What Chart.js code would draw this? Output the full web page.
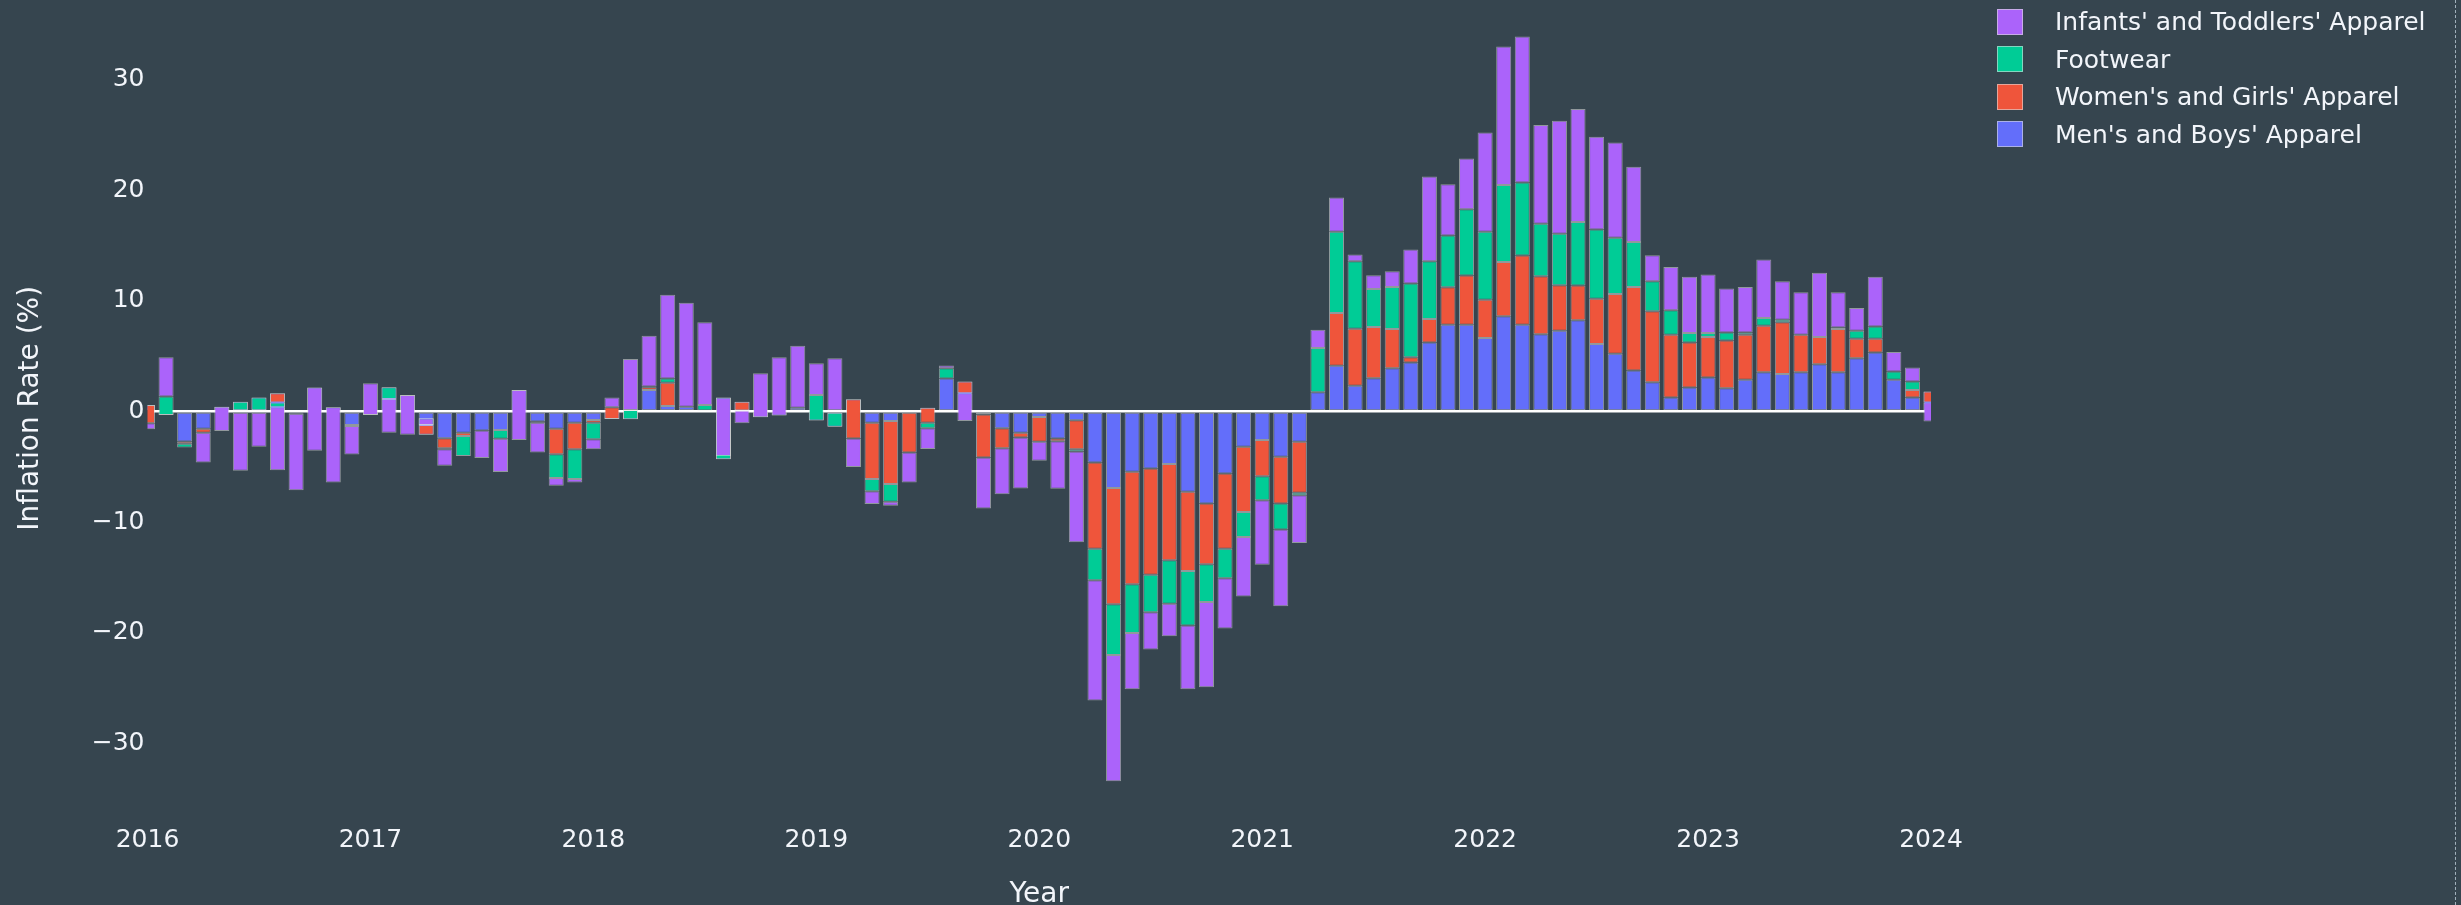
<!DOCTYPE html>
<html>
<head>
<meta charset="utf-8">
<script src="https://cdn.jsdelivr.net/npm/chart.js@4.4.1/dist/chart.umd.min.js"></script>
<style>
    html, body { margin: 0; padding: 0; background: #36454f; }
    #wrap { position: relative; width: 2461px; height: 905px; }
    #legend { position: absolute; left: 1997px; top: 3px; font-family: 'DejaVu Sans'; font-size: 25px; color: #f2f5fa; }
    .item { display: flex; align-items: center; height: 37.5px; white-space: nowrap; }
    .box { width: 26px; height: 26px; box-sizing: border-box; border: 1px solid rgba(220,220,220,0.6); margin-right: 32px; }
    #edge { position: absolute; left: 2455px; top: 0; height: 905px; border-left: 1px dashed rgba(190,205,215,0.8); }
</style>
</head>
<body>
<div id="wrap">
    <canvas id="myChart" width="2461" height="905"></canvas>
    <div id="legend"></div>
    <div id="edge"></div>
</div>
<script>
// Year tick labels, months are built from them (Jan 2016 .. Jan 2024)
const years = ['2016', '2017', '2018', '2019', '2020', '2021', '2022', '2023', '2024'];
const months = [];
years.forEach((y, i) => {
    const last = i === years.length - 1 ? 1 : 12;
    for (let m = 1; m <= last; m++) months.push(y + '-' + String(m).padStart(2, '0'));
});

// Monthly inflation rate (%) per category
const mensBoys = [
    0.6, -0.3, -2.7, -1.55, 0.45, 0.9, 1.27, 1.66, -0.2, 2.17, 0.4, -1.2,
    -0.3, 2.2, 1.5, -2.1, -2.4, -1.9, -1.7, -1.66, 1.96, -0.9, -1.55, -1.0,
    -0.75, -0.66, -0.7, 1.96, 0.5, 0.45, 0.1, -4.3, 0.9, -0.5, -0.36, 0.35,
    -0.8, -1.36, 1.12, -1.0, -0.85, -0.1, 0.36, 3.0, 2.72, -0.25, -1.5, -1.9,
    -0.48, -2.42, -0.78, -4.6, -6.9, -5.44, -5.14, -4.74, -7.25, -8.3, -5.6, -3.17,
    -2.57, -4.08, -2.72, 1.75, 4.14, 2.33, 3.02, 3.93, 4.44, 6.25, 7.85, 7.85,
    6.65, 8.61, 7.85, 7.0, 7.31, 8.25, 6.1, 5.23, 3.72, 2.66, 1.27, 2.18,
    3.08, 2.11, 2.87, 3.56, 3.41, 3.56, 4.29, 3.56, 4.83, 5.35, 2.87, 1.27,
    1.81
];
const womensGirls = [
    -1.65, 0, -0.2, -0.35, 0, 0, 0, -0.84, 0, 0, 0, -0.1,
    0, 0, 0, 0.9, -0.9, -0.3, 0, 0, 0, -0.1, -2.3, -2.4,
    -0.25, 1.06, 0, 0.25, 2.1, 0, 0, 0, -0.8, 0, 0, 0,
    0, 0, -3.54, -5.1, -5.7, -3.6, -1.36, 0, -1.06, -3.9, -1.82, -0.45,
    -2.25, -0.25, -2.62, -7.8, -10.5, -10.16, -9.6, -8.7, -7.15, -5.5, -6.8, -5.9,
    -3.26, -4.22, -4.62, 0, 4.77, 5.16, 4.62, 3.53, 0.48, 2.12, 3.39, 4.45,
    3.47, 4.92, 6.25, 5.24, 4.11, 3.14, 4.11, 5.4, 7.55, 6.4, 5.68, 4.07,
    3.66, 4.32, 4.08, 4.2, 4.66, 3.39, 2.45, 3.9, 1.76, 1.24, 0, 0.69,
    -0.99
];
const footwear = [
    0, 1.66, -0.35, 0, 0, -0.9, -1.27, -0.42, 0, 0, 0, 0,
    0, -1.05, 0, 0.6, -0.1, -1.8, 0, -0.8, 0, 0, -2.15, -2.7,
    -1.5, 0, 0.85, 0.05, 0.4, 0, 0.5, 5.57, 0, 0, 0, 0,
    2.3, 1.36, 0, -1.1, -1.6, 0, -0.5, 0.93, 0, 0, 0, 0,
    0, 0, -0.2, -2.85, -4.6, -4.4, -3.39, -3.93, -4.93, -3.4, -2.65, -2.27,
    -2.17, -2.36, -0.21, 3.99, 7.34, 6.11, 3.45, 3.81, 6.65, 5.23, 4.68, 5.98,
    6.13, 6.95, 6.6, 4.74, 4.65, 5.74, 6.26, 5.08, 4.05, 2.72, 2.2, 0.85,
    0.36, 0.73, 0.21, 0.7, 0.24, 0, 0, 0.15, 0.72, 1.11, 0.76, 0.76,
    0
];
const infantsToddlers = [
    -0.55, 3.56, 0, -2.7, -2.2, -5.35, -3.17, -5.7, -6.9, -5.7, -6.8, -2.57,
    2.87, -3.05, -3.6, -0.6, -1.5, 0, -2.5, -3.0, -4.53, -2.7, -0.7, -0.3,
    -0.9, 0.87, 4.6, 4.6, 7.57, 9.4, 7.47, -5.27, -1.15, 3.97, 5.28, 5.6,
    2.88, 4.83, -2.58, -1.15, -0.35, -2.7, -1.88, 0.24, -2.51, -4.6, -4.15, -4.6,
    -1.7, -4.3, -8.2, -10.85, -11.4, -5.1, -3.37, -2.93, -5.77, -7.7, -4.55, -5.37,
    -5.84, -6.92, -4.32, 1.66, 3.09, 0.6, 1.24, 1.42, 3.08, 7.64, 4.62, 4.59,
    8.98, 12.52, 13.2, 8.92, 10.21, 10.21, 8.36, 8.61, 6.82, 2.36, 3.93, 5.08,
    5.29, 3.96, 4.11, 5.29, 3.47, 3.84, 5.8, 3.18, 2.06, 4.48, 1.75, 1.27,
    -1.72
];

// stacking order from the bottom up (each trace starts where the previous one ended)
const series = [
    { label: "Men's and Boys' Apparel", values: mensBoys, color: '#636efa' },
    { label: "Women's and Girls' Apparel", values: womensGirls, color: '#ef553b' },
    { label: 'Footwear', values: footwear, color: '#00cc96' },
    { label: "Infants' and Toddlers' Apparel", values: infantsToddlers, color: '#ab63fa' }
];

const running = months.map(() => 0);
const stacked = series.map(s => {
    const ranges = s.values.map((v, i) => {
        const r = [running[i], running[i] + v];
        running[i] += v;
        return r;
    });
    return {
        label: s.label,
        data: ranges,
        backgroundColor: s.color,
        borderColor: 'rgba(220,220,220,0.55)',
        borderWidth: 1,
        borderSkipped: false,
        grouped: false,
        clip: 0,
        categoryPercentage: 1,
        barPercentage: 0.81
    };
});
// dataset 0 is painted last, so the top trace goes first
const datasets = stacked.reverse();

Chart.defaults.font.family = 'DejaVu Sans';
Chart.defaults.color = '#f2f5fa';

// legend as html, built from the chart's datasets
const htmlLegend = {
    id: 'htmlLegend',
    afterUpdate(chart) {
        const box = document.getElementById('legend');
        box.innerHTML = '';
        chart.data.datasets.forEach(ds => {
            const row = document.createElement('div');
            row.className = 'item';
            const sw = document.createElement('span');
            sw.className = 'box';
            sw.style.background = ds.backgroundColor;
            row.appendChild(sw);
            row.appendChild(document.createTextNode(ds.label));
            box.appendChild(row);
        });
    }
};

const ctx = document.getElementById('myChart').getContext('2d');
const inflationChart = new Chart(ctx, {
    type: 'bar',
    data: { labels: months, datasets: datasets },
    options: {
        responsive: false,
        animation: false,
        devicePixelRatio: 1,
        layout: { padding: { left: 0, right: 530, top: 0, bottom: 0 } },
        plugins: {
            legend: { display: false },
            tooltip: { enabled: false }
        },
        scales: {
            x: {
                type: 'category',
                offset: false,
                grid: { display: false, drawTicks: false },
                border: { display: false },
                ticks: {
                    autoSkip: false,
                    maxRotation: 0,
                    minRotation: 0,
                    padding: 9,
                    font: { size: 25 },
                    callback: function (value) {
                        const lab = this.getLabelForValue(value);
                        return lab.endsWith('-01') ? lab.slice(0, 4) : '';
                    }
                },
                title: {
                    display: true,
                    text: 'Year',
                    font: { size: 28, lineHeight: 1 },
                    padding: { top: 0, bottom: -4 }
                },
                afterFit(scale) {
                    scale.height = 88.4;
                    scale.paddingLeft = 0;
                    scale.paddingRight = 0;
                }
            },
            y: {
                min: -36.6,
                max: 37.2,
                grid: {
                    drawTicks: false,
                    color: c => (c.tick && c.tick.value === 0 ? '#ffffff' : 'rgba(0,0,0,0)'),
                    lineWidth: 2.5
                },
                border: { display: false },
                ticks: {
                    stepSize: 10,
                    includeBounds: false,
                    padding: 3,
                    font: { size: 25 },
                    callback: v => (v < 0 ? '\u2212' + Math.abs(v) : String(v))
                },
                title: {
                    display: true,
                    text: 'Inflation Rate (%)',
                    font: { size: 28 },
                    padding: { top: 14, bottom: 0 }
                },
                afterFit(scale) {
                    scale.width = 147.5;
                    scale.paddingTop = 0;
                    scale.paddingBottom = 0;
                }
            }
        }
    },
    plugins: [htmlLegend]
});
</script>
</body>
</html>
